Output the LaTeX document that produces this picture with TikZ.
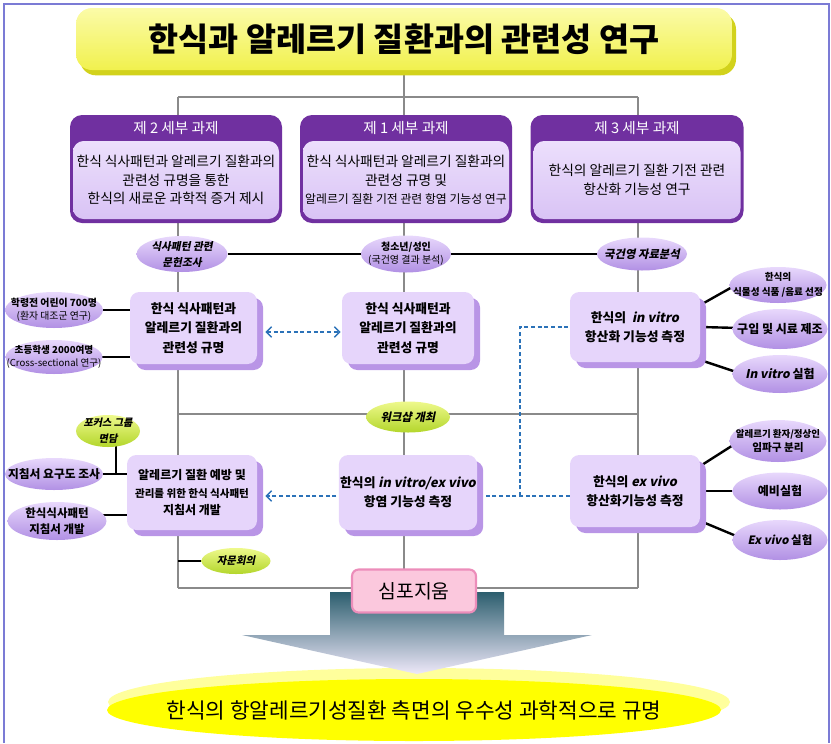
\documentclass[tikz,border=0pt]{standalone}
\usepackage{fontspec}
\setmainfont{Noto Sans CJK KR}
\newfontfamily\kit{Noto Sans CJK KR}[FakeSlant=0.2]
\usetikzlibrary{shapes.geometric,shadows,arrows.meta,calc}
\definecolor{hpur}{HTML}{7030A0}
\definecolor{lav}{HTML}{E6D5FB}
\definecolor{lavsh}{HTML}{B995E6}
\definecolor{bodytop}{HTML}{ECDFFC}
\definecolor{bodybot}{HTML}{D9C3F5}
\definecolor{ovtop}{HTML}{E8D8FC}
\definecolor{ovbot}{HTML}{B190E4}
\definecolor{grtop}{HTML}{EEF98C}
\definecolor{grbot}{HTML}{B3D62B}
\definecolor{gline}{HTML}{8A8A8A}
\definecolor{dblue}{HTML}{2B72B8}
\definecolor{bord}{HTML}{7B7BD5}
\definecolor{ytop}{HTML}{FBFBA8}
\definecolor{ybot}{HTML}{F1F14E}
\definecolor{ysh}{HTML}{D2D21C}
\definecolor{pinkf}{HTML}{FBC8DD}
\definecolor{pinkd}{HTML}{EC8DBA}
\definecolor{aone}{HTML}{2C5E6E}
\definecolor{atwo}{HTML}{7EBEF2}
\definecolor{athree}{HTML}{EEE8F9}
\definecolor{gyone}{HTML}{FFFF9C}
\definecolor{gytwo}{HTML}{FFFF00}
\pgfdeclarelayer{bg}
\pgfsetlayers{bg,main}
\tikzset{
  gl/.style={draw=gline, line width=2pt},
  bl/.style={draw=black, line width=1.8pt},
  dl/.style={draw=dblue, line width=1.1pt, dash pattern=on 3pt off 2pt},
  tbox/.style 2 args={rectangle, rounded corners=9pt, fill=hpur, minimum width=#1*0.75pt, minimum height=#2*0.75pt, inner sep=0pt},
  tbody/.style 2 args={rectangle, rounded corners=8pt, top color=bodytop, bottom color=bodybot, minimum width=#1*0.75pt, minimum height=#2*0.75pt, inner sep=0pt, align=center, font=\fontsize{10.3}{13.8}\selectfont},
  hdr/.style={text=white, inner sep=0pt, font=\fontsize{11}{13}\selectfont},
  mbox/.style 2 args={rectangle, rounded corners=7pt, fill=lav, minimum width=#1*0.75pt, minimum height=#2*0.75pt, inner sep=1pt, align=center,
     drop shadow={shadow xshift=4.5pt, shadow yshift=-4.5pt, fill=lavsh, opacity=1}, font=\fontsize{9.6}{14.5}\selectfont\bfseries},
  oval/.style 2 args={ellipse, minimum width=#1*0.75pt, minimum height=#2*0.75pt, inner sep=0pt, top color=ovtop, bottom color=ovbot},
  goval/.style 2 args={ellipse, minimum width=#1*0.75pt, minimum height=#2*0.75pt, inner sep=0pt, top color=grtop, bottom color=grbot},
  lb/.style={align=center, inner sep=0pt},
  itf/.style={font=\kit\fontsize{#1}{12}\selectfont\bfseries},
  bff/.style={font=\fontsize{#1}{11}\selectfont\bfseries},
}
\begin{document}
\begin{tikzpicture}[x=0.75pt,y=-0.75pt]
\useasboundingbox (0,0) rectangle (831,743);
% outer frame
\draw[bord, line width=1.5pt] (4,743) -- (4,4) -- (829,4) -- (829,743);
% grid coordinates
\coordinate (cL) at (178,0);
\coordinate (cM) at (404,0);
\coordinate (cR) at (638,0);
\coordinate (hT) at (0,97);
\coordinate (hW) at (0,414);
\coordinate (hB) at (0,588);
% goal ellipse
\path[fill=gyone] (419,702) ellipse [x radius=311, y radius=34];
\node[ellipse, fill=gytwo, minimum width=614*0.75pt, minimum height=62*0.75pt, inner sep=0pt,
  label={[lb, font=\fontsize{16}{18}\selectfont]center:한식의 항알레르기성질환 측면의 우수성 과학적으로 규명}] (goal) at (414,710) {};
% big arrow
\path[top color=aone, middle color=atwo, bottom color=athree] (330,592) -- (504,592) -- (504,635) -- (592,635) -- (417,674) -- (242,635) -- (330,635) -- cycle;
% title
\node[rectangle, rounded corners=12pt, top color=ytop, bottom color=ybot, minimum width=656*0.75pt, minimum height=62*0.75pt,
  drop shadow={shadow xshift=3pt, shadow yshift=-4pt, fill=ysh, opacity=1}, font=\fontsize{24.5}{28}\selectfont\bfseries] (title) at (404,39) {한식과 알레르기 질환과의 관련성 연구};
% top boxes
\node[tbox={212}{108}] (t2) at (176,169) {};
\node[tbody={206}{78}] (b2) at (176,180) {한식 식사패턴과 알레르기 질환과의\\관련성 규명을 통한\\한식의 새로운 과학적 증거 제시};
\node[hdr] (h2) at (176,128.5) {제 2 세부 과제};
\node[tbox={212}{108}] (t1) at (406,169) {};
\node[tbody={206}{78}] (b1) at (406,180) {한식 식사패턴과 알레르기 질환과의\\관련성 규명 및\\{\fontsize{8.9}{13.8}\selectfont 알레르기 질환 기전 관련 항염 기능성 연구}};
\node[hdr] (h1) at (406,128.5) {제 1 세부 과제};
\node[tbox={213}{108}] (t3) at (637,169) {};
\node[tbody={207}{78}] (b3) at (637,180) {한식의 알레르기 질환 기전 관련\\항산화 기능성 연구};
\node[hdr] (h3) at (637,128.5) {제 3 세부 과제};
% upper ellipses
\node[oval={91}{36}, label={[lb, itf=8]center:식사패턴 관련\\문헌조사}] (elit) at (182,254) {};
\node[oval={90}{37}, label={[lb, font=\fontsize{7.5}{10}\selectfont]center:{\bfseries 청소년/성인}\\(국건영 결과 분석)}] (eteen) at (406,254) {};
\node[oval={90}{33}, label={[lb, itf=8.5]center:국건영 자료분석}] (ekor) at (642,254) {};
% middle boxes
\node[mbox={127}{72}] (m2) at (193.5,328) {한식 식사패턴과\\알레르기 질환과의\\관련성 규명};
\node[mbox={132}{72}] (m1) at (408,328) {한식 식사패턴과\\알레르기 질환과의\\관련성 규명};
\node[mbox={130}{70}] (m3) at (635,327) {한식의 \ {\kit in vitro}\\항산화 기능성 측정};
% left ellipses
\node[oval={98}{36}, label={[lb, font=\fontsize{7.4}{9.5}\selectfont]center:{\bfseries 학령전 어린이 700명}\\(환자 대조군 연구)}] (epre) at (54,310) {};
\node[oval={97}{34}, label={[lb, font=\fontsize{7.2}{9.5}\selectfont]center:{\bfseries 초등학생 2000여명}\\(Cross-sectional 연구)}] (eelem) at (54,357) {};
% right ellipses
\node[oval={97}{36}, label={[lb, bff=7.2]center:한식의\\식물성 식품 /음료 선정}] (r1) at (778,285) {};
\node[oval={95}{40}, label={[lb, bff=9]center:구입 및 시료 제조}] (r2) at (780,329) {};
\node[oval={95}{38}, label={[lb, bff=9]center:{\kit In vitro} 실험}] (r3) at (780,374) {};
% workshop
\node[goval={84}{31}, label={[lb, itf=8.5]center:워크샵 개최}] (gwork) at (408,417) {};
% lower boxes
\node[mbox={130}{75}, font=\fontsize{9}{13}\selectfont\bfseries] (l2) at (192,492.5) {알레르기 질환 예방 및\\{\fontsize{7.9}{13}\selectfont 관리를 위한 한식 식사패턴}\\지침서 개발};
\node[mbox={132}{75}] (l1) at (408,492.5) {한식의 {\kit in vitro/ex vivo}\\항염 기능성 측정};
\node[mbox={130}{72}] (l3) at (635,491) {한식의 {\kit ex vivo}\\항산화기능성 측정};
% left lower ellipses
\node[goval={64}{32}, label={[lb, itf=7.6]center:포커스 그룹\\면담}] (gfocus) at (108,431) {};
\node[oval={98}{32}, label={[lb, bff=8.8]center:지침서 요구도 조사}] (eneed) at (54,474) {};
\node[oval={99}{38}, label={[lb, font=\fontsize{8.6}{12}\selectfont\bfseries]center:한식식사패턴\\지침서 개발}] (eguide) at (57,521) {};
\node[goval={69}{26}, label={[lb, itf=7.8]center:자문회의}] (gadv) at (236,561) {};
% right lower ellipses
\node[oval={97}{42}, label={[lb, font=\fontsize{7.1}{11}\selectfont\bfseries]center:알레르기 환자/정상인\\{\fontsize{8}{11}\selectfont 임파구 분리}}] (r4) at (778,441) {};
\node[oval={95}{37}, label={[lb, bff=9]center:예비실험}] (r5) at (780,491) {};
\node[oval={95}{40}, label={[lb, bff=8.6]center:{\kit Ex vivo} 실험}] (r6) at (780,540) {};
% symposium
\node[rectangle, rounded corners=5pt, fill=pinkf, draw=pinkd, line width=1.6pt, minimum width=124*0.75pt, minimum height=43*0.75pt,
  font=\fontsize{14.5}{16}\selectfont] (sympo) at (414,591) {심포지움};
% dashed double arrow
\draw[dl, {Straight Barb[length=4pt,width=8pt]}-{Straight Barb[length=4pt,width=8pt]}] ($(m2.east)+(8,4)$) -- ($(m1.west)+(-1,4)$);
\begin{pgfonlayer}{bg}
  % gray frame lines
  \draw[gl] (title.south -| cM) -- (cM |- hT);
  \draw[gl] (cL |- hT) -- (cR |- hT);
  \draw[gl] (cL |- hT) -- (cL |- hB);
  \draw[gl] (cM |- hT) -- (cM |- hB);
  \draw[gl] (cR |- hT) -- (cR |- hB);
  \draw[gl] (cL |- hW) -- (cR |- hW);
  \draw[gl] (cL |- hB) -- (cR |- hB);
  % black connectors
  \draw[bl] (elit.east) -- (ekor.west);
  \draw[bl] (epre.center) -- (epre.center -| m2.west);
  \draw[bl] (eelem.center) -- (eelem.center -| m2.west);
  \draw[bl] ($(m3.east)+(0,-22)$) -- ($(r1.west)+(3,2)$);
  \draw[bl] (m3.east) -- (r2.center);
  \draw[bl] ($(m3.east)+(0,33)$) -- ($(r3.west)+(4,-2)$);
  \draw[bl] ($(l3.east)+(0,-25)$) -- ($(r4.west)+(4,4)$);
  \draw[bl] (l3.east) -- (r5.center);
  \draw[bl] ($(l3.east)+(0,30)$) -- ($(r6.west)+(4,-4)$);
  \draw[bl] (eneed.center) -- (eneed.center -| l2.west);
  \draw[bl] ($(gfocus.center)+(8,0)$) -- ($(gfocus.center)+(8,43)$);
  \draw[bl] ($(eguide.center)+(0,-6)$) -- ($(l2.west)+(0,22.5)$);
  \draw[bl] (cL |- gadv) -- (gadv.center);
  % dashed blue connectors
  \coordinate (dj) at (520,496);
  \draw[dl, -{Straight Barb[length=4pt,width=8pt]}] ($(l3.west)+(0,5)$) -- ($(l2.east)+(8,3.5)$);
  \draw[dl] (dj) |- (m3.west);
\end{pgfonlayer}
\end{tikzpicture}
\end{document}
